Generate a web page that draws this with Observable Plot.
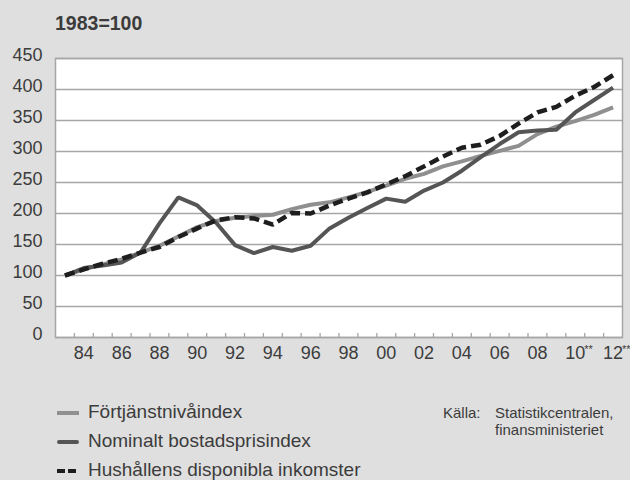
<!DOCTYPE html>
<html>
<head>
<meta charset="utf-8">
<script src="https://cdn.jsdelivr.net/npm/d3@7"></script>
<script src="https://cdn.jsdelivr.net/npm/@observablehq/plot@0.6"></script>
<style>
html, body { margin: 0; padding: 0; background: #dfdfdf; }
#wrap { position: relative; width: 630px; height: 480px; background: #dfdfdf; overflow: hidden;
        font-family: "Liberation Sans", Arial, sans-serif; color: #3c3c3c; }
#chart { position: absolute; left: 0; top: 0; }
.t { position: absolute; white-space: nowrap; }
.leg { font-size: 19px; line-height: 19px; left: 88px; }
.sw { position: absolute; height: 4px; }
.src { font-size: 15px; line-height: 17px; top: 404px; }
</style>
</head>
<body>
<div id="wrap">
  <div id="chart"></div>
  <div class="t" id="title" style="left:55px; top:13px; font-size:19.5px; line-height:20px; font-weight:bold;">1983=100</div>
  <div id="legend"></div>
  <div class="t src" id="srcLabel" style="left:443px;"></div>
  <div class="t src" id="srcText" style="left:495px;"></div>
</div>
<script>
const years = [1983,1984,1985,1986,1987,1988,1989,1990,1991,1992,1993,1994,1995,1996,1997,
               1998,1999,2000,2001,2002,2003,2004,2005,2006,2007,2008,2009,2010,2011,2012];
const fortjanst = [100,110,118,126,137,148,163,178,188,193,196,198,207,214,218,
                   226,235,245,256,264,276,284,293,301,309,328,340,349,359,371];
const bostad    = [100,112,116,121,137,184,226,213,185,149,136,146,140,148,176,
                   193,209,224,219,237,250,269,291,312,331,334,335,363,383,403];
const hushall   = [100,110,119,127,137,146,162,176,189,194,192,182,201,200,213,
                   224,234,247,260,276,292,306,311,325,345,363,372,390,404,423];
const seriesNames = ["Förtjänstnivåindex", "Nominalt bostadsprisindex", "Hushållens disponibla inkomster"];
const yTicks = [0,50,100,150,200,250,300,350,400,450];
const xLabelYears = [1984,1986,1988,1990,1992,1994,1996,1998,2000,2002,2004,2006,2008,2010,2012];
const xLabels = ["84","86","88","90","92","94","96","98","00","02","04","06","08","10","12"];
const starYears = [2010, 2012];
const sourceLabel = "Källa:";
const sourceLines = ["Statistikcentralen,", "finansministeriet"];

const colors = ["#8f8f8f", "#555555", "#1e1e1e"];
const bandEdges = years.slice(0, -1).map(y => y + 0.5);
const rows = (vals) => years.map((y, i) => ({year: y, value: vals[i]}));

const plot = Plot.plot({
  width: 630,
  height: 380,
  marginTop: 58,
  marginBottom: 43,
  marginLeft: 55,
  marginRight: 8,
  style: {background: "transparent", fontFamily: "Liberation Sans, Arial, sans-serif",
          fontSize: "18px", color: "#3c3c3c", overflow: "visible"},
  x: {domain: [years[0] - 0.5, years[years.length - 1] + 0.5], axis: null},
  y: {domain: [0, 450], axis: null},
  marks: [
    Plot.frame({fill: "white", stroke: null}),
    Plot.ruleY(yTicks, {stroke: "#a6a6a6", strokeWidth: 1.5}),
    Plot.ruleX(bandEdges, {stroke: "#a6a6a6", strokeWidth: 1.3, insetTop: 275}),
    Plot.frame({stroke: "#a6a6a6", strokeWidth: 1.5}),
    Plot.line(rows(fortjanst), {x: "year", y: "value", stroke: colors[0], strokeWidth: 4,
      strokeLinejoin: "miter", strokeLinecap: "butt"}),
    Plot.line(rows(bostad), {x: "year", y: "value", stroke: colors[1], strokeWidth: 4,
      strokeLinejoin: "miter", strokeLinecap: "butt"}),
    Plot.line(rows(hushall), {x: "year", y: "value", stroke: colors[2], strokeWidth: 4.5,
      strokeDasharray: "10,5", strokeLinejoin: "miter", strokeLinecap: "butt"}),
    Plot.text(yTicks, {frameAnchor: "left", y: d => d, text: d => String(d),
      textAnchor: "end", lineAnchor: "bottom", dx: -13, dy: 2, fill: "#3c3c3c"}),
    Plot.text(xLabelYears, {x: d => d, frameAnchor: "bottom", text: (d, i) => xLabels[i],
      lineAnchor: "bottom", dy: 21, fill: "#3c3c3c"}),
    Plot.text(starYears, {x: d => d, frameAnchor: "bottom", text: () => "**",
      textAnchor: "start", lineAnchor: "bottom", dx: 9, dy: 15, fontSize: 11, fill: "#3c3c3c"})
  ]
});
document.getElementById("chart").appendChild(plot);

// Legend
const legend = document.getElementById("legend");
const rowTops = [402, 431, 460];
const swatchTops = [411, 440, 468.5];
seriesNames.forEach((name, i) => {
  const t = document.createElement("div");
  t.className = "t leg";
  t.style.top = rowTops[i] + "px";
  t.textContent = name;
  legend.appendChild(t);
  if (i < 2) {
    const s = document.createElement("div");
    s.className = "sw";
    s.style.left = "57px"; s.style.width = "22px";
    s.style.top = swatchTops[i] + "px";
    s.style.background = colors[i];
    if (i === 1) s.style.borderRadius = "2px";
    legend.appendChild(s);
  } else {
    [57, 68].forEach(x => {
      const s = document.createElement("div");
      s.className = "sw";
      s.style.left = x + "px"; s.style.width = "8px";
      s.style.top = swatchTops[i] + "px";
      s.style.background = colors[i];
      legend.appendChild(s);
    });
  }
});
document.getElementById("srcLabel").textContent = sourceLabel;
const srcText = document.getElementById("srcText");
sourceLines.forEach(line => {
  const d = document.createElement("div");
  d.textContent = line;
  srcText.appendChild(d);
});
</script>
</body>
</html>
